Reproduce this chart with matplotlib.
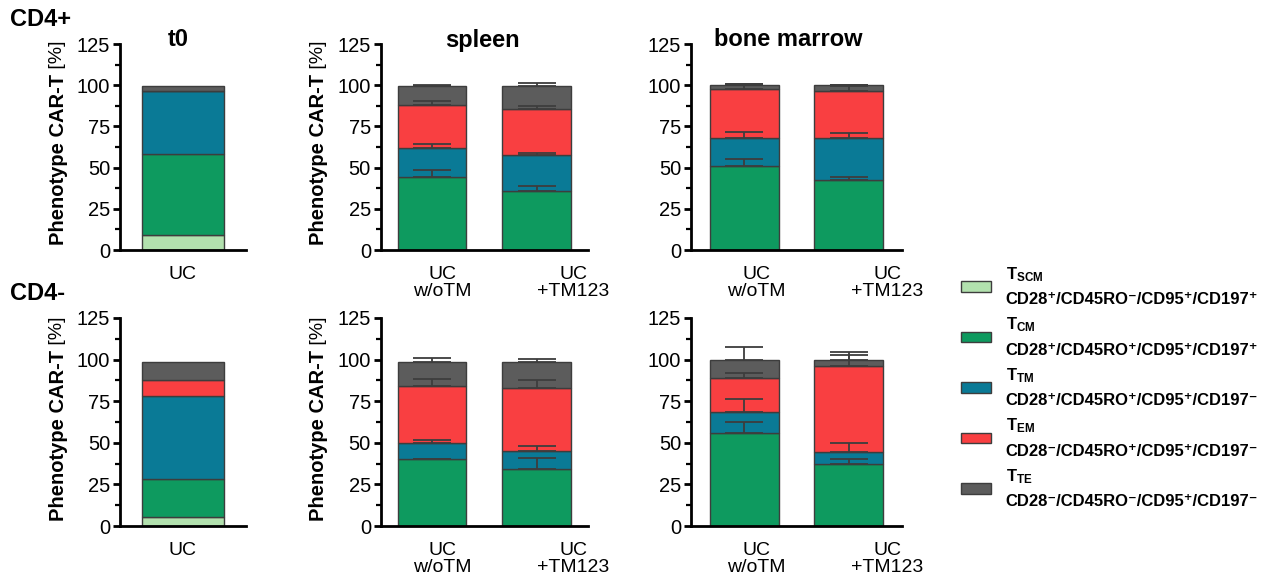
import numpy as np
import matplotlib
matplotlib.use('Agg')
import matplotlib.pyplot as plt
from matplotlib.patches import Patch
from matplotlib.ticker import MultipleLocator

plt.rcParams['font.family'] = ['Liberation Sans', 'DejaVu Sans']
plt.rcParams['mathtext.fontset'] = 'custom'
plt.rcParams['mathtext.rm'] = 'Liberation Sans'
plt.rcParams['mathtext.bf'] = 'Liberation Sans:bold'
plt.rcParams['mathtext.it'] = 'Liberation Sans:italic'

# populations, bottom to top of each stack
populations = ['TSCM', 'TCM', 'TTM', 'TEM', 'TTE']
colors = ['#b2e1ae', '#0e9a5f', '#0a7a96', '#f93f41', '#5c5c5c']
legend_labels = [
    '$\\mathbf{T}_{\\mathbf{SCM}}$\nCD28⁺/CD45RO⁻/CD95⁺/CD197⁺',
    '$\\mathbf{T}_{\\mathbf{CM}}$\nCD28⁺/CD45RO⁺/CD95⁺/CD197⁺',
    '$\\mathbf{T}_{\\mathbf{TM}}$\nCD28⁺/CD45RO⁺/CD95⁺/CD197⁻',
    '$\\mathbf{T}_{\\mathbf{EM}}$\nCD28⁻/CD45RO⁺/CD95⁺/CD197⁻',
    '$\\mathbf{T}_{\\mathbf{TE}}$\nCD28⁻/CD45RO⁻/CD95⁺/CD197⁻',
]

t0_labels = ['UC']
organ_labels = ['UC\nw/oTM', 'UC\n+TM123']

# CD4+ (top row), values per population [TSCM, TCM, TTM, TEM, TTE]
cd4pos_t0 = [9, 49.5, 38, 0, 2.8]
cd4pos_spleen_wo = [0, 44, 17.7, 26, 12]
cd4pos_spleen_wo_err = [0, 4.4, 2.6, 3.0, 0.4]
cd4pos_spleen_tm = [0, 35.5, 22.3, 28, 14]
cd4pos_spleen_tm_err = [0, 3.4, 1.2, 1.5, 1.8]
cd4pos_bm_wo = [0, 51, 17, 29.5, 2.6]
cd4pos_bm_wo_err = [0, 4.5, 3.4, 3.0, 0.5]
cd4pos_bm_tm = [0, 42.5, 25.3, 28.5, 3.8]
cd4pos_bm_tm_err = [0, 1.6, 3.0, 3.5, 0.2]

# CD4- (bottom row)
cd4neg_t0 = [5.5, 22.5, 50, 10, 10.5]
cd4neg_spleen_wo = [0, 40, 10, 34, 14.5]
cd4neg_spleen_wo_err = [0, 0.5, 1.5, 4.2, 2.2]
cd4neg_spleen_tm = [0, 34.5, 10.7, 37.6, 16]
cd4neg_spleen_tm_err = [0, 6.2, 2.8, 5.2, 1.8]
cd4neg_bm_wo = [0, 56, 12.7, 20.5, 10.7]
cd4neg_bm_wo_err = [0, 6.6, 7.5, 3.0, 7.4]
cd4neg_bm_tm = [0, 37.4, 7.2, 51.8, 3.5]
cd4neg_bm_tm_err = [0, 2.8, 5.4, 6.3, 4.8]

W, H = 1262, 580
fig = plt.figure(figsize=(W / 100, H / 100), dpi=100)

EDGE = '#3d3d3d'


def px_rect(x0, w, ytop, ybot):
    return [x0 / W, 1 - ybot / H, w / W, (ybot - ytop) / H]


def stacked(ax, stacks, errs, width):
    stacks = np.array(stacks, dtype=float)  # bars x populations
    x = np.arange(len(stacks))
    bottom = np.zeros(len(stacks))
    for j in range(stacks.shape[1]):
        ax.bar(x, stacks[:, j], width, bottom=bottom, color=colors[j],
               edgecolor=EDGE, linewidth=1.0, zorder=2)
        top = bottom + stacks[:, j]
        if errs is not None:
            e = np.array(errs, dtype=float)[:, j]
            m = e > 0
            if m.any():
                ax.errorbar(x[m], top[m], yerr=[np.zeros(m.sum()), e[m]],
                            fmt='none', ecolor=EDGE, elinewidth=1.3,
                            capsize=14, capthick=1.3, zorder=3)
        bottom = top


def style(ax, xlim, ticks, labels, ylabel):
    ax.set_ylim(0, 125)
    ax.set_xlim(*xlim)
    ax.yaxis.set_major_locator(MultipleLocator(25))
    ax.yaxis.set_minor_locator(MultipleLocator(12.5))
    for s in ['top', 'right']:
        ax.spines[s].set_visible(False)
    for s in ['left', 'bottom']:
        ax.spines[s].set_linewidth(2)
    ax.tick_params(axis='y', which='major', length=5, width=2, labelsize=14.5, pad=2)
    ax.tick_params(axis='y', which='minor', length=3.5, width=1.6)
    ax.set_xticks(ticks)
    ax.set_xticklabels(labels, fontsize=14, linespacing=1.0)
    ax.tick_params(axis='x', length=0, pad=11.5)
    if ylabel:
        t1 = ax.annotate('Phenotype CAR-T', xy=(0, 0.025), xycoords='axes fraction',
                         xytext=(-62, 0), textcoords='offset pixels',
                         rotation=90, ha='center', va='bottom',
                         fontsize=14.5, fontweight='bold')
        ax.annotate(' [%]', xy=(0.5, 1), xycoords=t1, rotation=90,
                    ha='center', va='bottom', fontsize=14)


cols = [(120, 126), (380.7, 207.3), (691, 210.7)]
rows = [(44, 250), (318, 526)]

data = [
    [([cd4pos_t0], None),
     ([cd4pos_spleen_wo, cd4pos_spleen_tm], [cd4pos_spleen_wo_err, cd4pos_spleen_tm_err]),
     ([cd4pos_bm_wo, cd4pos_bm_tm], [cd4pos_bm_wo_err, cd4pos_bm_tm_err])],
    [([cd4neg_t0], None),
     ([cd4neg_spleen_wo, cd4neg_spleen_tm], [cd4neg_spleen_wo_err, cd4neg_spleen_tm_err]),
     ([cd4neg_bm_wo, cd4neg_bm_tm], [cd4neg_bm_wo_err, cd4neg_bm_tm_err])],
]

for r, (ytop, ybot) in enumerate(rows):
    for c, (x0, w) in enumerate(cols):
        ax = fig.add_axes(px_rect(x0, w, ytop, ybot))
        stacks, errs = data[r][c]
        if c == 0:
            stacked(ax, stacks, errs, 1.0)
            style(ax, (-0.77, 0.77), [0], t0_labels, True)
        elif c == 1:
            stacked(ax, stacks, errs, 0.655)
            style(ax, (-0.49, 1.49), [0.1, 1.35], organ_labels, True)
        else:
            stacked(ax, stacks, errs, 0.66)
            style(ax, (-0.51, 1.51), [0.12, 1.37], organ_labels, False)

# panel titles
for txt, xc in [('t0', 178), ('spleen', 482), ('bone marrow', 788)]:
    fig.text(xc / W, 1 - 40 / H, txt, ha='center', va='center',
             fontsize=17, fontweight='bold')

fig.text(10 / W, 1 - 20 / H, 'CD4+', ha='left', va='center', fontsize=17, fontweight='bold')
fig.text(10 / W, 1 - 294 / H, 'CD4-', ha='left', va='center', fontsize=17, fontweight='bold')

handles = [Patch(facecolor=col, edgecolor=EDGE, linewidth=1.0) for col in colors]
leg = fig.legend(handles, legend_labels, loc='upper left',
                 bbox_to_anchor=(953 / W, 1 - 257 / H), frameon=False,
                 prop={'size': 12, 'weight': 'bold'}, handlelength=1.8, handleheight=0.6,
                 handletextpad=0.85, labelspacing=0.5, borderpad=0)
for t in leg.get_texts():
    t.set_linespacing(1.7)

fig.savefig('out.png', dpi=100)
